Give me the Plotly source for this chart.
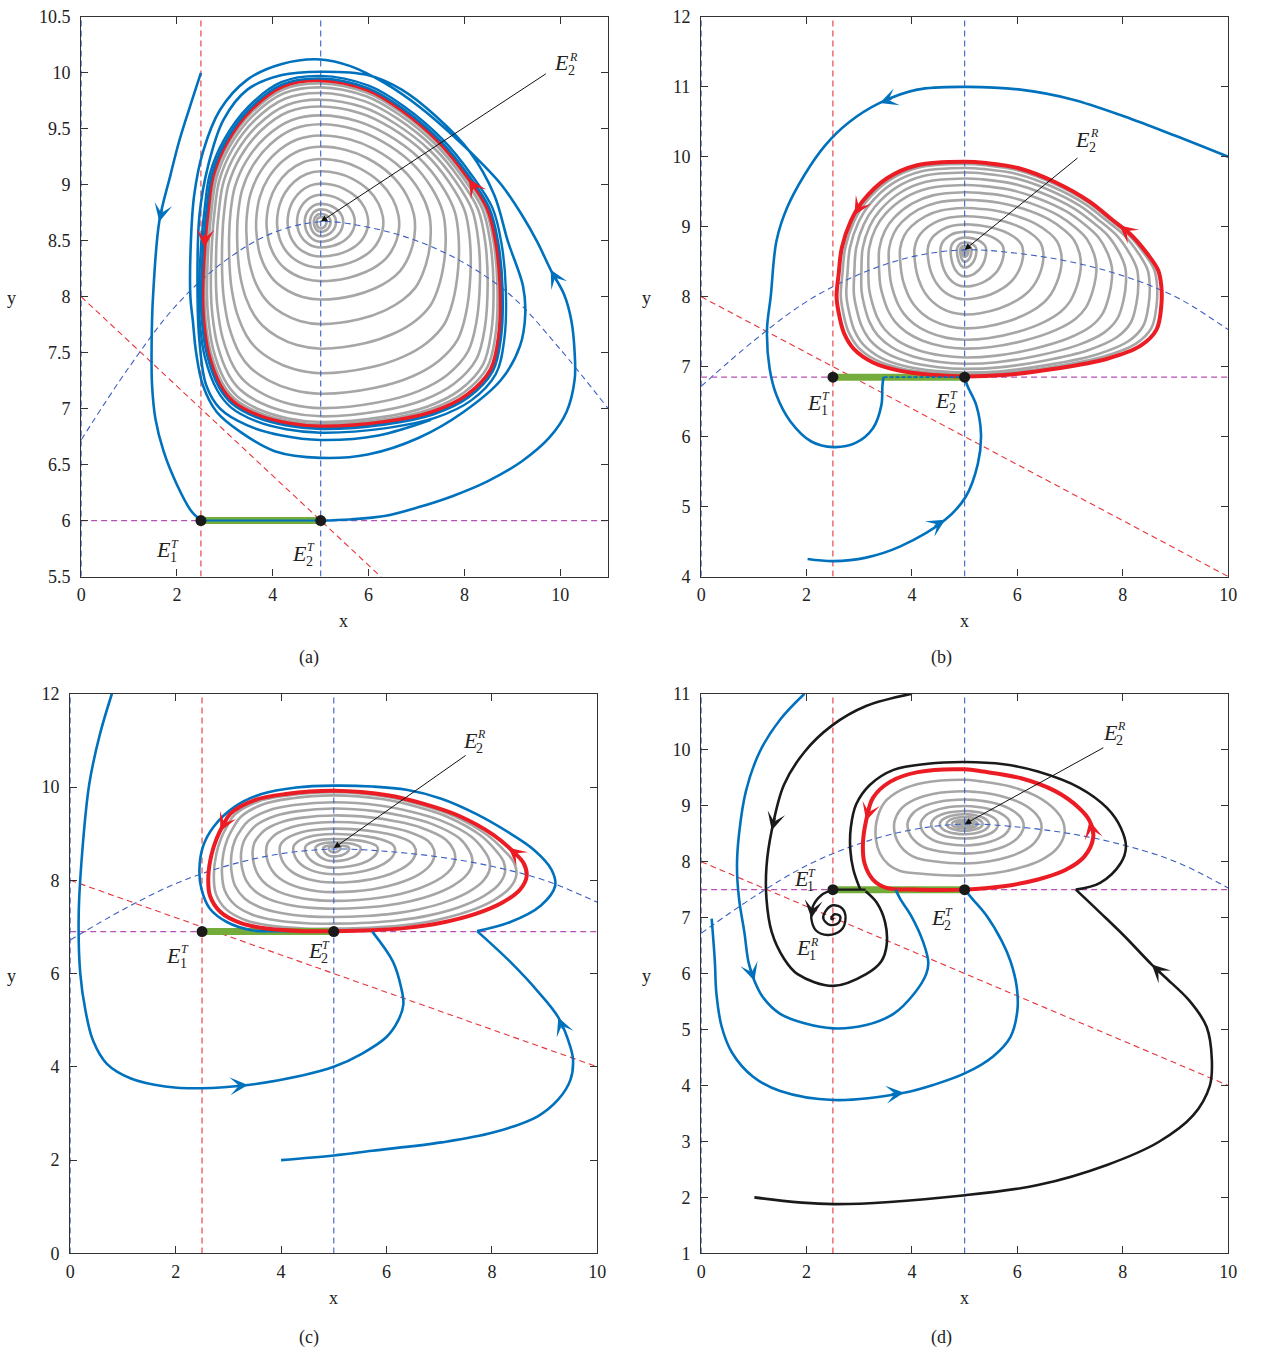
import math
import plotly.graph_objects as go

FONT = "Liberation Serif"
PAGE_W, PAGE_H = 1269, 1371
PAGE_PAD = 8                      # default body margin of the html page
W, H = PAGE_W - 2 * PAGE_PAD, PAGE_H - 2 * PAGE_PAD

# ---------------------------------------------------------------- shared lines
# prey-isocline of the smooth subsystem (blue dashed curve)
ISO_X = [0, 1, 2, 3, 4, 5, 6, 7, 8, 9, 10, 11]
ISO_Y = [6.72, 7.37, 7.93, 8.32, 8.57, 8.67, 8.62, 8.50, 8.30, 8.00, 7.53, 7.00]
# threshold line through (0, 8) and (10, 4) (red dashed)
THR_X = [0, 10, 12]
THR_Y = [8.0, 4.0, 3.2]
X_T1 = 2.5   # red dashed vertical
X_T2 = 5.0   # blue dashed vertical

# ---------------------------------------------------------------- panel (a)
A_XTICKS = [0, 2, 4, 6, 8, 10]
A_YTICKS = [5.5, 6, 6.5, 7, 7.5, 8, 8.5, 9, 9.5, 10, 10.5]
A_YTEXT = ["5.5", "6", "6.5", "7", "7.5", "8", "8.5", "9", "9.5", "10", "10.5"]
A_SLIDE_Y = 6.0
A_CENTER = (5.0, 8.67)
A_RED = [(5.0, 9.935), (4.2, 9.88), (3.54, 9.67), (3.04, 9.38), (2.75, 9.08),
         (2.65, 8.79), (2.58, 8.49), (2.53, 8.0), (2.55, 7.79), (2.65, 7.5),
         (2.9, 7.21), (3.18, 7.06), (3.69, 6.94), (4.3, 6.87), (5.0, 6.84),
         (6.33, 6.88), (7.33, 6.97), (8.05, 7.12), (8.55, 7.35), (8.72, 7.65),
         (8.75, 8.09), (8.66, 8.49), (8.48, 8.79), (8.05, 9.08), (7.48, 9.38),
         (6.69, 9.67), (5.97, 9.85), (5.0, 9.935)]
A_GRAY_TOP = [0.977, 0.949, 0.909, 0.862, 0.814, 0.751, 0.688, 0.609, 0.53,
              0.443, 0.356, 0.269, 0.19, 0.126, 0.087, 0.055, 0.032]
A_GRAY_BOTTOM = [0.989, 0.978, 0.95, 0.91, 0.84, 0.74, 0.62, 0.50, 0.38,
                 0.29, 0.224, 0.17, 0.126, 0.098, 0.071, 0.049, 0.033]
A_GRAY_LEFT = [0.985, 0.965, 0.935, 0.895, 0.845, 0.785, 0.715, 0.635, 0.55,
               0.46, 0.37, 0.28, 0.2, 0.135, 0.09, 0.058, 0.035]
A_GRAY_RIGHT = [0.985, 0.965, 0.935, 0.895, 0.845, 0.78, 0.705, 0.62, 0.53,
                0.44, 0.35, 0.265, 0.19, 0.125, 0.085, 0.055, 0.032]
A_BLUE_1 = [(2.5, 10.0), (2.25, 9.67), (2.04, 9.38), (1.86, 9.08), (1.63, 8.67),
            (1.5, 8.0), (1.48, 7.79), (1.47, 7.5), (1.48, 7.21), (1.55, 6.91),
            (1.72, 6.62), (2.0, 6.32), (2.29, 6.09), (2.5, 6.0)]
A_BLUE_2 = [(5.0, 6.0), (5.6, 6.01), (6.33, 6.04), (7.05, 6.12), (7.76, 6.22),
            (8.48, 6.35), (9.2, 6.53), (9.77, 6.74), (10.13, 6.97), (10.3, 7.26),
            (10.3, 7.5), (10.23, 7.79), (10.08, 8.02), (9.8, 8.24), (9.52, 8.49),
            (9.2, 8.73), (8.77, 9.0), (8.34, 9.2), (7.76, 9.44), (7.05, 9.7),
            (6.33, 9.91), (5.62, 10.06), (5.0, 10.12), (4.19, 10.08), (3.47, 9.94),
            (2.9, 9.67), (2.54, 9.29), (2.36, 8.91), (2.29, 8.49), (2.28, 8.0),
            (2.33, 7.79), (2.4, 7.5), (2.54, 7.21), (2.83, 6.97), (3.33, 6.79),
            (4.04, 6.62), (5.0, 6.56), (5.98, 6.59), (7.05, 6.74), (7.98, 6.97),
            (8.77, 7.26), (9.16, 7.56), (9.27, 7.85), (9.22, 8.1), (8.91, 8.49),
            (8.62, 8.91), (8.12, 9.29), (7.41, 9.61), (6.69, 9.85), (5.98, 9.98),
            (5.0, 10.01), (4.19, 9.98), (3.47, 9.85), (2.97, 9.58), (2.65, 9.17),
            (2.47, 8.73), (2.43, 8.0), (2.47, 7.6), (2.61, 7.21), (2.9, 7.0),
            (3.47, 6.85), (4.19, 6.76), (5.0, 6.72), (6.2, 6.76), (7.3, 6.9)]
A_BLUE_RINGS = [1.03, 1.012]

# ---------------------------------------------------------------- panel (b)
B_XTICKS = [0, 2, 4, 6, 8, 10]
B_YTICKS = [4, 5, 6, 7, 8, 9, 10, 11, 12]
B_SLIDE_Y = 6.85
B_CENTER = (5.0, 8.67)
B_RED = [(5.0, 9.93), (4.1, 9.88), (3.52, 9.69), (3.06, 9.36), (2.84, 9.08),
         (2.67, 8.70), (2.61, 8.33), (2.57, 8.0), (2.61, 7.77), (2.71, 7.48),
         (2.9, 7.25), (3.26, 7.06), (3.78, 6.94), (4.43, 6.88), (5.0, 6.86),
         (5.74, 6.88), (6.71, 6.97), (7.69, 7.11), (8.34, 7.30), (8.64, 7.53),
         (8.73, 7.86), (8.73, 8.16), (8.67, 8.38), (8.47, 8.61), (8.15, 8.89),
         (7.8, 9.1), (7.37, 9.36), (6.71, 9.64), (6.06, 9.83), (5.41, 9.91),
         (5.0, 9.93)]
B_GRAY_TOP = [0.974, 0.929, 0.877, 0.81, 0.735, 0.653, 0.567, 0.474, 0.381,
              0.288, 0.206, 0.139, 0.083, 0.046, 0.025, 0.012]
B_GRAY_BOTTOM = [0.985, 0.97, 0.94, 0.90, 0.85, 0.78, 0.71, 0.62, 0.51, 0.39,
                 0.29, 0.21, 0.14, 0.094, 0.055, 0.03]
B_GRAY_LEFT = [0.97, 0.93, 0.876, 0.82, 0.765, 0.68, 0.6, 0.51, 0.395, 0.29,
               0.19, 0.11, 0.06, 0.035, 0.02, 0.01]
B_GRAY_RIGHT = [0.98, 0.945, 0.89, 0.83, 0.76, 0.68, 0.6, 0.5, 0.405, 0.3,
                0.2, 0.11, 0.06, 0.035, 0.02, 0.01]
B_BLUE_1 = [(10.0, 10.0), (9.0, 10.3), (8.02, 10.58), (7.04, 10.82), (6.06, 10.96),
            (5.0, 11.0), (4.1, 10.96), (3.39, 10.77), (2.8, 10.49), (2.35, 10.16),
            (1.96, 9.74), (1.63, 9.27), (1.43, 8.8), (1.32, 8.0), (1.25, 7.53),
            (1.3, 6.97), (1.43, 6.59), (1.69, 6.22), (2.09, 5.93), (2.51, 5.85),
            (2.93, 5.91), (3.26, 6.12), (3.42, 6.45), (3.44, 6.73), (3.46, 6.85)]
B_BLUE_1_SLIDE = [(3.46, 6.85), (5.0, 6.85)]
B_BLUE_2 = [(2.02, 4.25), (2.51, 4.22), (3.13, 4.27), (3.78, 4.43), (4.63, 4.81),
            (5.02, 5.14), (5.25, 5.61), (5.31, 6.03), (5.22, 6.45), (5.05, 6.73),
            (5.0, 6.85)]

# ---------------------------------------------------------------- panel (c)
C_XTICKS = [0, 2, 4, 6, 8, 10]
C_YTICKS = [0, 2, 4, 6, 8, 10, 12]
C_SLIDE_Y = 6.9
C_CENTER = (5.0, 8.69)
C_RED = [(5.0, 9.92), (4.09, 9.85), (3.5, 9.72), (3.04, 9.43), (2.91, 9.2),
         (2.78, 8.9), (2.68, 8.55), (2.62, 8.09), (2.65, 7.67), (2.85, 7.32),
         (3.24, 7.08), (3.76, 6.96), (4.42, 6.91), (5.0, 6.91), (5.73, 6.93),
         (6.38, 6.98), (7.04, 7.09), (7.69, 7.28), (8.21, 7.53), (8.54, 7.81),
         (8.66, 8.09), (8.6, 8.37), (8.4, 8.62), (8.02, 8.98), (7.36, 9.39),
         (6.71, 9.64), (6.05, 9.82), (5.0, 9.92)]
C_GRAY_TOP = [0.975, 0.92, 0.80, 0.69, 0.57, 0.455, 0.34, 0.245, 0.16, 0.1, 0.05, 0.025]
C_GRAY_BOTTOM = [0.97, 0.91, 0.83, 0.73, 0.635, 0.53, 0.415, 0.315, 0.235, 0.157, 0.1, 0.05]
C_GRAY_LEFT = [0.96, 0.9, 0.83, 0.75, 0.655, 0.545, 0.435, 0.325, 0.23, 0.147, 0.084, 0.04]
C_GRAY_RIGHT = [0.95, 0.895, 0.82, 0.73, 0.64, 0.53, 0.43, 0.32, 0.23, 0.14, 0.08, 0.035]
C_BLUE_1_IN = [(4.0, 2.0), (5.0, 2.1), (5.73, 2.2), (7.04, 2.38), (8.02, 2.59),
               (8.87, 2.94), (9.26, 3.3), (9.49, 3.72), (9.54, 4.14), (9.49, 4.42),
               (9.26, 5.06), (8.87, 5.62), (8.34, 6.26), (7.72, 6.91)]
C_BLUE_1_OUT = [(7.72, 6.91), (8.34, 7.1), (8.93, 7.46), (9.2, 7.88), (9.13, 8.23),
                (8.8, 8.65), (8.34, 9.01), (7.69, 9.43), (7.04, 9.75), (6.38, 9.94),
                (5.73, 10.01), (5.0, 10.03), (4.29, 9.99), (3.63, 9.85), (3.11, 9.57),
                (2.72, 9.15), (2.52, 8.73), (2.45, 8.23), (2.49, 7.81), (2.65, 7.39),
                (2.98, 7.1), (3.44, 6.93), (3.76, 6.91)]
C_BLUE_2 = [(0.79, 12.0), (0.56, 11.12), (0.36, 10.06), (0.23, 8.65), (0.16, 7.25),
            (0.19, 6.0), (0.29, 5.2), (0.43, 4.57), (0.69, 4.07), (1.15, 3.75),
            (1.8, 3.58), (2.49, 3.54), (3.37, 3.61), (4.42, 3.82), (5.0, 4.0),
            (5.53, 4.28), (6.0, 4.64), (6.22, 4.99), (6.32, 5.34), (6.28, 5.69),
            (6.12, 6.26), (5.73, 6.9)]

# ---------------------------------------------------------------- panel (d)
D_XTICKS = [0, 2, 4, 6, 8, 10]
D_YTICKS = [1, 2, 3, 4, 5, 6, 7, 8, 9, 10, 11]
D_SLIDE_Y = 7.5
D_CENTER = (5.0, 8.67)
D_RED = [(5.0, 9.65), (4.11, 9.6), (3.59, 9.43), (3.26, 9.14), (3.13, 8.73),
         (3.07, 8.32), (3.1, 7.97), (3.26, 7.68), (3.52, 7.53), (4.11, 7.5),
         (5.0, 7.5), (5.74, 7.56), (6.39, 7.68), (6.91, 7.85), (7.27, 8.09),
         (7.44, 8.44), (7.37, 8.73), (7.17, 8.96), (6.72, 9.26), (6.07, 9.49),
         (5.35, 9.61), (5.0, 9.65)]
D_GRAY_TOP = [0.81, 0.6, 0.45, 0.33, 0.24, 0.18, 0.13, 0.08, 0.05, 0.03, 0.015]
D_GRAY_BOTTOM = [0.785, 0.6, 0.45, 0.325, 0.22, 0.155, 0.1, 0.066, 0.04, 0.025, 0.012]
D_GRAY_LEFT = [0.885, 0.7, 0.565, 0.435, 0.33, 0.245, 0.177, 0.125, 0.083, 0.05, 0.025]
D_GRAY_RIGHT = [0.78, 0.6, 0.46, 0.355, 0.26, 0.19, 0.14, 0.1, 0.07, 0.04, 0.02]
D_BLACK_1_IN = [(1.01, 2.0), (2.51, 1.88), (5.01, 2.04), (6.39, 2.22), (7.7, 2.58),
                (8.68, 2.99), (9.33, 3.46), (9.65, 3.99), (9.69, 4.46), (9.59, 5.05),
                (9.26, 5.52), (8.81, 5.93), (8.55, 6.16), (8.02, 6.68), (7.57, 7.09),
                (7.11, 7.5)]
D_BLACK_1_OUT = [(7.11, 7.5), (7.57, 7.62), (7.96, 7.97), (8.06, 8.26), (7.96, 8.61),
                 (7.7, 8.96), (7.18, 9.32), (6.39, 9.61), (5.74, 9.74), (5.0, 9.78),
                 (4.3, 9.75), (3.65, 9.64), (3.2, 9.37), (2.94, 9.02), (2.84, 8.61),
                 (2.83, 8.22), (2.89, 7.85), (3.02, 7.5)]
D_BLACK_2 = [(4.0, 11.0), (3.13, 10.78), (2.48, 10.43), (1.96, 9.96), (1.57, 9.37),
             (1.34, 8.56), (1.24, 7.91), (1.24, 7.33), (1.34, 6.74), (1.57, 6.27),
             (1.83, 5.99), (2.51, 5.78), (3.13, 5.99), (3.42, 6.22), (3.52, 6.51),
             (3.49, 6.92), (3.33, 7.27), (3.12, 7.47)]
D_BLACK_SLIDE = [(3.12, 7.5), (2.5, 7.5)]
D_BLACK_SPIRAL = [(2.5, 7.5), (2.28, 7.4), (2.12, 7.2), (2.09, 6.99), (2.18, 6.77),
                  (2.4, 6.69), (2.65, 6.77), (2.74, 6.99), (2.68, 7.16), (2.5, 7.22),
                  (2.35, 7.1), (2.32, 6.98), (2.44, 6.87), (2.6, 6.9), (2.64, 7.02),
                  (2.53, 7.06), (2.47, 6.98), (2.52, 6.97)]
D_BLUE_1 = [(0.2, 6.98), (0.26, 6.22), (0.29, 5.64), (0.39, 5.05), (0.59, 4.58),
            (0.98, 4.16), (1.5, 3.9), (2.51, 3.74), (3.85, 3.87), (4.44, 4.02),
            (5.01, 4.22), (5.54, 4.52), (5.87, 4.87), (6.0, 5.34), (5.99, 5.75),
            (5.87, 6.22), (5.71, 6.57), (5.41, 7.04), (5.15, 7.33), (5.0, 7.5)]
D_BLUE_2 = [(1.96, 11.0), (1.5, 10.54), (1.11, 9.96), (0.85, 9.26), (0.72, 8.5),
            (0.68, 7.91), (0.72, 7.33), (0.82, 6.74), (0.9, 6.2), (1.01, 5.87),
            (1.17, 5.58), (1.5, 5.28), (1.96, 5.11), (2.51, 5.02), (3.13, 5.08),
            (3.65, 5.28), (4.04, 5.64), (4.27, 5.99), (4.31, 6.2), (4.21, 6.57),
            (3.98, 7.04), (3.78, 7.33), (3.69, 7.5)]

# ---------------------------------------------------------------- styling
RED = "#ec1c24"
BLUE = "#0072bd"
GRAY = "#a6a6a6"
BLACK = "#1a1a1a"
GREEN = "#74ac3c"
DASH_RED = "#e8343a"
DASH_BLUE = "#3c5fc2"
DASH_PURPLE = "#b452b4"
DASH = "6px,4px"

# pixel boxes (page coordinates) of the plotting areas: left, right, top, bottom
PANEL_BOX = {
    "a": (85, 618, 15, 583),
    "b": (712, 1245, 15, 583),
    "c": (74, 607, 702, 1270),
    "d": (712, 1245, 702, 1270),
}
PANEL_RANGE = {
    "a": ((0, 11), (5.5, 10.5)),
    "b": ((0, 10), (4, 12)),
    "c": ((0, 10), (0, 12)),
    "d": ((0, 10), (1, 11)),
}
AXIS_ID = {"a": "", "b": "2", "c": "3", "d": "4"}

fig = go.Figure()


def xy(pts):
    return [p[0] for p in pts], [p[1] for p in pts]


def add_line(p, pts, color, width, shape="spline", dash=None):
    xs, ys = xy(pts)
    fig.add_trace(go.Scatter(
        x=xs, y=ys, mode="lines",
        line=dict(color=color, width=width, shape=shape, dash=dash),
        xaxis="x" + AXIS_ID[p], yaxis="y" + AXIS_ID[p],
        hoverinfo="skip", showlegend=False))


def cycle_extents(cycle, center):
    cx, cy = center
    xs, ys = xy(cycle)
    return cx - min(xs), max(xs) - cx, max(ys) - cy, cy - min(ys)


def nested_orbit(cycle, center, fl, fr, ft, fb, keep):
    """Orbit with the given left/right/top/bottom reach (relative to the cycle);
    keep=1 keeps the cycle's own profile, keep=0 gives a rounded oval."""
    cx, cy = center
    L, R, T, B = cycle_extents(cycle, center)
    out = []
    for x, y in cycle:
        u = (x - cx) / (L if x < cx else R)
        v = (y - cy) / (T if y > cy else B)
        n = math.hypot(u, v) or 1.0
        ub = keep * u + (1 - keep) * u / n
        vb = keep * v + (1 - keep) * v / n
        nx = cx + ub * (fl * L if ub < 0 else fr * R)
        ny = cy + vb * (ft * T if vb > 0 else fb * B)
        out.append((nx, ny))
    return out


def px_scale(p):
    l, r, t, b = PANEL_BOX[p]
    (x0, x1), (y0, y1) = PANEL_RANGE[p]
    return (r - l) / (x1 - x0), (b - t) / (y1 - y0)


def add_flow_arrow(p, pts, x, y, color):
    sx, sy = px_scale(p)
    best = None
    for i in range(len(pts) - 1):
        x0, y0 = pts[i]
        x1, y1 = pts[i + 1]
        dx, dy = (x1 - x0) * sx, (y1 - y0) * sy
        l2 = dx * dx + dy * dy
        if l2 == 0:
            continue
        t = ((x - x0) * sx * dx + (y - y0) * sy * dy) / l2
        t = max(0.0, min(1.0, t))
        qx, qy = x0 + t * (x1 - x0), y0 + t * (y1 - y0)
        d = ((qx - x) * sx) ** 2 + ((qy - y) * sy) ** 2
        if best is None or d < best[0]:
            best = (d, qx, qy, dx, dy)
    _, qx, qy, dx, dy = best
    n = math.hypot(dx, dy)
    vx, vy = dx / n, -dy / n
    fig.add_annotation(
        x=qx, y=qy, xref="x" + AXIS_ID[p], yref="y" + AXIS_ID[p],
        ax=-vx * 14, ay=-vy * 14, showarrow=True, arrowhead=3,
        arrowsize=1.5, arrowwidth=2.0, arrowcolor=color, text="", standoff=0)


def add_guides(p, slide_y):
    (x0, x1), (y0, y1) = PANEL_RANGE[p]
    add_line(p, [(0, y0), (0, y1)], DASH_BLUE, 1.3, "linear", DASH)
    add_line(p, list(zip(ISO_X, ISO_Y)), DASH_BLUE, 1.1, "spline", DASH)
    add_line(p, list(zip(THR_X, THR_Y)), DASH_RED, 1.1, "linear", DASH)
    add_line(p, [(X_T1, y0), (X_T1, y1)], DASH_RED, 1.1, "linear", DASH)
    add_line(p, [(X_T2, y0), (X_T2, y1)], DASH_BLUE, 1.1, "linear", DASH)
    add_line(p, [(x0, slide_y), (x1, slide_y)], DASH_PURPLE, 1.3, "linear", DASH)


def add_gray(p, red, center, tops, bottoms, lefts, rights):
    for ft, fb, fl, fr in zip(tops, bottoms, lefts, rights):
        size = (ft + fb + fl + fr) / 4
        add_line(p, nested_orbit(red, center, fl, fr, ft, fb, size ** 2), GRAY, 2.6)


def add_sliding_segment(p, slide_y):
    add_line(p, [(X_T1, slide_y), (X_T2, slide_y)], GREEN, 7, "linear")


def add_points(p, slide_y):
    fig.add_trace(go.Scatter(
        x=[X_T1, X_T2], y=[slide_y, slide_y], mode="markers",
        marker=dict(size=11, color=BLACK),
        xaxis="x" + AXIS_ID[p], yaxis="y" + AXIS_ID[p],
        hoverinfo="skip", showlegend=False))


def e_label(p, x, y, sup, sub):
    ref = dict(xref="x" + AXIS_ID[p], yref="y" + AXIS_ID[p], showarrow=False)
    fig.add_annotation(x=x, y=y, text="<i>E</i>", xanchor="center", yanchor="middle",
                       font=dict(family=FONT, size=22, color="#222"), **ref)
    fig.add_annotation(x=x, y=y, text="<i>%s</i>" % sup, xanchor="left", yanchor="middle",
                       xshift=5, yshift=6, font=dict(family=FONT, size=12, color="#222"), **ref)
    fig.add_annotation(x=x, y=y, text=sub, xanchor="left", yanchor="middle",
                       xshift=4, yshift=-8, font=dict(family=FONT, size=14, color="#222"), **ref)


def eq_pointer(p, tail, tip):
    fig.add_annotation(
        x=tip[0], y=tip[1], ax=tail[0], ay=tail[1],
        xref="x" + AXIS_ID[p], yref="y" + AXIS_ID[p],
        axref="x" + AXIS_ID[p], ayref="y" + AXIS_ID[p],
        showarrow=True, arrowhead=2, arrowsize=1.3, arrowwidth=1,
        arrowcolor="#111", text="")


# ---------------------------------------------------------------- (a)
add_gray("a", A_RED, A_CENTER, A_GRAY_TOP, A_GRAY_BOTTOM, A_GRAY_LEFT, A_GRAY_RIGHT)
add_guides("a", A_SLIDE_Y)
add_sliding_segment("a", A_SLIDE_Y)
add_line("a", A_RED, RED, 4)
for f in A_BLUE_RINGS:
    add_line("a", nested_orbit(A_RED, A_CENTER, f, f, f, f, 1.0), BLUE, 2.4)
add_line("a", A_BLUE_1, BLUE, 2.6)
add_line("a", A_BLUE_2, BLUE, 2.6)
add_line("a", [(X_T1, A_SLIDE_Y), (X_T2, A_SLIDE_Y)], BLUE, 2, "linear")
add_points("a", A_SLIDE_Y)
add_flow_arrow("a", A_BLUE_1, 1.63, 8.67, BLUE)
add_flow_arrow("a", A_BLUE_2, 9.8, 8.24, BLUE)
add_flow_arrow("a", A_RED, 2.61, 8.44, RED)
add_flow_arrow("a", A_RED, 7.98, 9.02, RED)
e_label("a", 10.03, 10.09, "R", "2")
eq_pointer("a", (9.73, 10.0), A_CENTER)
e_label("a", 1.72, 5.74, "T", "1")
e_label("a", 4.56, 5.71, "T", "2")

# ---------------------------------------------------------------- (b)
add_gray("b", B_RED, B_CENTER, B_GRAY_TOP, B_GRAY_BOTTOM, B_GRAY_LEFT, B_GRAY_RIGHT)
add_guides("b", B_SLIDE_Y)
add_sliding_segment("b", B_SLIDE_Y)
add_line("b", B_RED, RED, 4)
add_line("b", B_BLUE_1, BLUE, 2.6)
add_line("b", B_BLUE_1_SLIDE, BLUE, 1.6, "linear", "4px,2px")
add_line("b", B_BLUE_2, BLUE, 2.6)
add_points("b", B_SLIDE_Y)
add_flow_arrow("b", B_BLUE_1, 3.39, 10.77, BLUE)
add_flow_arrow("b", B_BLUE_2, 4.63, 4.81, BLUE)
add_flow_arrow("b", B_RED, 2.95, 9.15, RED)
add_flow_arrow("b", B_RED, 7.95, 9.03, RED)
e_label("b", 7.24, 10.25, "R", "2")
eq_pointer("b", (7.17, 10.0), B_CENTER)
e_label("b", 2.16, 6.49, "T", "1")
e_label("b", 4.58, 6.51, "T", "2")

# ---------------------------------------------------------------- (c)
add_gray("c", C_RED, C_CENTER, C_GRAY_TOP, C_GRAY_BOTTOM, C_GRAY_LEFT, C_GRAY_RIGHT)
add_guides("c", C_SLIDE_Y)
add_sliding_segment("c", C_SLIDE_Y)
add_line("c", C_BLUE_1_OUT, BLUE, 2.6)
add_line("c", [(3.76, C_SLIDE_Y), (X_T2, C_SLIDE_Y)], BLUE, 2, "linear")
add_line("c", C_RED, RED, 4)
add_line("c", C_BLUE_1_IN, BLUE, 2.6)
add_line("c", C_BLUE_2, BLUE, 2.6)
add_points("c", C_SLIDE_Y)
add_flow_arrow("c", C_BLUE_1_IN, 9.26, 5.06, BLUE)
add_flow_arrow("c", C_BLUE_2, 3.37, 3.61, BLUE)
add_flow_arrow("c", C_RED, 2.85, 9.05, RED)
add_flow_arrow("c", C_RED, 8.3, 8.68, RED)
e_label("c", 7.59, 11.0, "R", "2")
eq_pointer("c", (7.53, 10.7), C_CENTER)
e_label("c", 1.96, 6.39, "T", "1")
e_label("c", 4.65, 6.49, "T", "2")

# ---------------------------------------------------------------- (d)
add_gray("d", D_RED, D_CENTER, D_GRAY_TOP, D_GRAY_BOTTOM, D_GRAY_LEFT, D_GRAY_RIGHT)
add_guides("d", D_SLIDE_Y)
add_sliding_segment("d", D_SLIDE_Y)
add_line("d", D_RED, RED, 4)
add_line("d", D_BLUE_1, BLUE, 2.6)
add_line("d", D_BLUE_2, BLUE, 2.6)
add_line("d", D_BLACK_1_IN, BLACK, 2.6)
add_line("d", D_BLACK_1_OUT, BLACK, 2.6)
add_line("d", D_BLACK_2, BLACK, 2.6)
add_line("d", D_BLACK_SLIDE, BLACK, 2.4, "linear")
add_line("d", D_BLACK_SPIRAL, BLACK, 2.4)
add_points("d", D_SLIDE_Y)
add_flow_arrow("d", D_BLACK_2, 1.34, 8.56, BLACK)
add_flow_arrow("d", D_BLACK_1_IN, 8.55, 6.16, BLACK)
add_flow_arrow("d", D_BLACK_SPIRAL, 2.09, 6.99, BLACK)
add_flow_arrow("d", D_BLUE_1, 3.85, 3.87, BLUE)
add_flow_arrow("d", D_BLUE_2, 1.01, 5.87, BLUE)
add_flow_arrow("d", D_RED, 3.13, 8.73, RED)
add_flow_arrow("d", D_RED, 7.37, 8.73, RED)
e_label("d", 7.76, 10.31, "R", "2")
eq_pointer("d", (7.66, 10.05), D_CENTER)
e_label("d", 1.9, 7.69, "T", "1")
e_label("d", 1.94, 6.46, "R", "1")
e_label("d", 4.5, 7.0, "T", "2")

# ---------------------------------------------------------------- axes
TICKS = {
    "a": (A_XTICKS, [str(v) for v in A_XTICKS], A_YTICKS, A_YTEXT),
    "b": (B_XTICKS, [str(v) for v in B_XTICKS], B_YTICKS, [str(v) for v in B_YTICKS]),
    "c": (C_XTICKS, [str(v) for v in C_XTICKS], C_YTICKS, [str(v) for v in C_YTICKS]),
    "d": (D_XTICKS, [str(v) for v in D_XTICKS], D_YTICKS, [str(v) for v in D_YTICKS]),
}
axis_style = dict(
    showline=True, mirror="ticks", linecolor="#333", linewidth=1.3,
    ticks="inside", ticklen=7, tickwidth=1.2, tickcolor="#333",
    showgrid=False, zeroline=False, fixedrange=True,
    tickfont=dict(family=FONT, size=18, color="#222"),
)
layout = dict(width=W, height=H, margin=dict(l=0, r=0, t=0, b=0),
              paper_bgcolor="white", plot_bgcolor="white", showlegend=False)
for p, (l, r, t, b) in PANEL_BOX.items():
    s = AXIS_ID[p]
    (x0, x1), (y0, y1) = PANEL_RANGE[p]
    xt, xtt, yt, ytt = TICKS[p]
    layout["xaxis" + s] = dict(domain=[(l - PAGE_PAD) / W, (r - PAGE_PAD) / W],
                               anchor="y" + s, range=[x0, x1],
                               tickvals=xt, ticktext=xtt, ticklabelstandoff=2, **axis_style)
    layout["yaxis" + s] = dict(domain=[1 - (b - PAGE_PAD) / H, 1 - (t - PAGE_PAD) / H],
                               anchor="x" + s, range=[y0, y1],
                               tickvals=yt, ticktext=ytt, ticklabelstandoff=6, **axis_style)
fig.update_layout(**layout)

# axis names and panel captions (page pixel positions)
LABELS = {
    "a": ((350, 628), (15, 300), (315, 665)),
    "b": ((978, 628), (657, 300), (955, 665)),
    "c": ((340, 1315), (15, 988), (315, 1355)),
    "d": ((978, 1315), (657, 988), (955, 1355)),
}
for p, (xl, yl, cap) in LABELS.items():
    for (px, py), txt in ((xl, "x"), (yl, "y"), (cap, "(%s)" % p)):
        fig.add_annotation(x=(px - PAGE_PAD) / W, y=1 - (py - PAGE_PAD) / H,
                           xref="paper", yref="paper",
                           text=txt, showarrow=False, xanchor="center", yanchor="middle",
                           font=dict(family=FONT, size=18, color="#222"))

fig.write_html("out.html")
